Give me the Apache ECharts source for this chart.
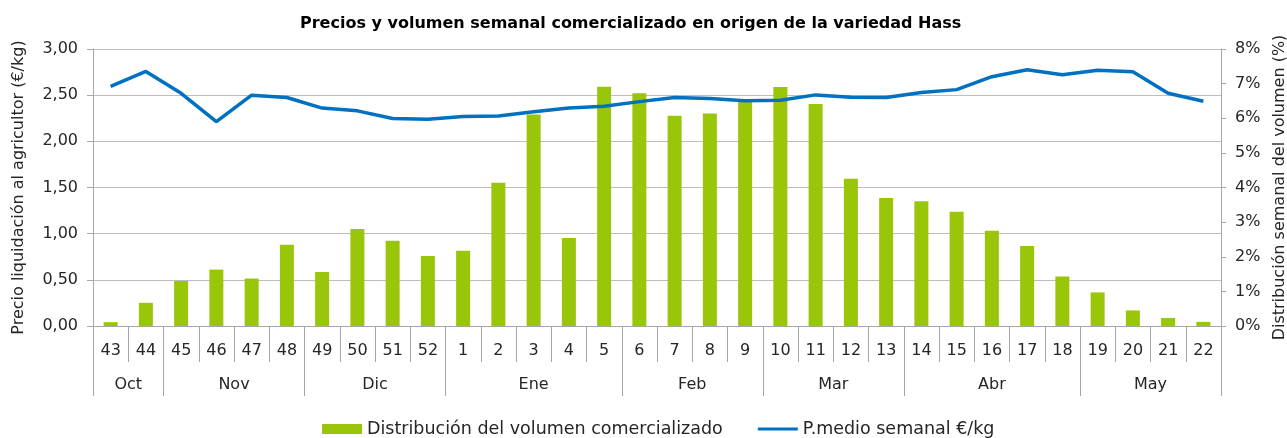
<!DOCTYPE html>
<html>
<head>
<meta charset="utf-8">
<script src="https://cdn.jsdelivr.net/npm/echarts@6/dist/echarts.min.js"></script>
<style>
html,body{margin:0;padding:0;background:#fff;}
#chart{width:1287px;height:438px;}
</style>
</head>
<body>
<div id="chart"></div>
<script>
// ---- data ----
const weeks = ['43','44','45','46','47','48','49','50','51','52','1','2','3','4','5','6','7','8','9','10','11','12','13','14','15','16','17','18','19','20','21','22'];
const monthNames = ['Oct','Nov','Dic','Ene','Feb','Mar','Abr','May'];
const monthSpans = [2,4,4,5,4,4,5,4];
const volumePct = [0.11,0.67,1.30,1.63,1.37,2.35,1.56,2.80,2.46,2.02,2.17,4.14,6.11,2.54,6.91,6.72,6.07,6.14,6.50,6.90,6.41,4.25,3.70,3.60,3.30,2.75,2.31,1.43,0.97,0.45,0.23,0.12];
const price = [2.595,2.757,2.52,2.214,2.50,2.475,2.36,2.33,2.247,2.24,2.27,2.275,2.32,2.36,2.38,2.43,2.475,2.464,2.44,2.446,2.503,2.478,2.475,2.53,2.56,2.70,2.775,2.72,2.77,2.753,2.52,2.435];
const leftTicks = [0,0.5,1,1.5,2,2.5,3];
const rightTicks = [0,1,2,3,4,5,6,7,8];
const titleText = 'Precios y volumen semanal comercializado en origen de la variedad Hass';
const barName = 'Distribución del volumen comercializado';
const lineName = 'P.medio semanal €/kg';
const leftAxisName = 'Precio liquidación al agricultor (€/kg)';
const rightAxisName = 'Distribución semanal del volumen (%)';

// ---- month axis built from half-slots (boundary positions) ----
const nSlots = weeks.length * 2 + 1;
const monthCats = new Array(nSlots).fill('');
const boundaryIdx = new Set([0]);
let start = 0;
monthNames.forEach((m, i) => {
  const center = start + monthSpans[i] / 2;
  monthCats[Math.round(center * 2)] = m;
  start += monthSpans[i];
  boundaryIdx.add(start * 2);
});

const FONT = 'DejaVu Sans';
const TXT = '#262626';
const GRID = '#BDBDBD';
const AX = '#A6A6A6';

const chart = echarts.init(document.getElementById('chart'), null, {renderer: 'canvas'});
chart.setOption({
  animation: false,
  backgroundColor: '#ffffff',
  textStyle: {fontFamily: FONT, color: TXT},
  title: {
    text: titleText,
    left: 295,
    top: 11,
    textStyle: {fontFamily: FONT, fontSize: 16, fontWeight: 'bold', color: '#000'}
  },
  legend: {
    left: 317,
    top: 415,
    itemWidth: 40,
    itemHeight: 10,
    itemGap: 35,
    textStyle: {fontFamily: FONT, fontSize: 17.5, color: TXT},
    data: [
      {name: barName, icon: 'rect'},
      {name: lineName, icon: 'path://M0,0 L0.01,0 M0,3.5 L40,3.5 L40,6.5 L0,6.5 Z M0,10 L0.01,10'}
    ]
  },
  grid: {left: 93, right: 66, top: 49, bottom: 112, containLabel: false, outerBoundsMode: 'none'},
  xAxis: [
    {
      type: 'category',
      data: weeks,
      position: 'bottom',
      axisLine: {show: true, lineStyle: {color: AX, width: 1}},
      axisTick: {show: true, alignWithLabel: false, length: 36, lineStyle: {color: AX}},
      axisLabel: {interval: 0, margin: 17, fontSize: 16, color: TXT, fontFamily: FONT}
    },
    {
      type: 'category',
      data: monthCats,
      boundaryGap: false,
      position: 'bottom',
      offset: 0,
      axisLine: {show: false},
      axisTick: {show: true, length: 70, interval: (idx) => boundaryIdx.has(idx), lineStyle: {color: AX}},
      axisLabel: {interval: 0, margin: 51, fontSize: 16, color: TXT, fontFamily: FONT}
    }
  ],
  yAxis: [
    {
      type: 'value',
      min: 0, max: 3, interval: 0.5,
      name: leftAxisName,
      nameLocation: 'middle',
      nameRotate: 90,
      nameGap: 66,
      nameTextStyle: {fontFamily: FONT, fontSize: 16, color: TXT},
      axisLine: {show: true, lineStyle: {color: AX}},
      axisTick: {show: true, length: 6, lineStyle: {color: AX}},
      axisLabel: {margin: 15, fontSize: 16, color: TXT, fontFamily: FONT,
        formatter: v => leftTicks.includes(v) ? v.toFixed(2).replace('.', ',') : ''},
      splitLine: {show: true, lineStyle: {color: GRID, width: 1}}
    },
    {
      type: 'value',
      min: 0, max: 8, interval: 1,
      position: 'right',
      name: rightAxisName,
      nameLocation: 'middle',
      nameRotate: 90,
      nameGap: 51,
      nameTextStyle: {fontFamily: FONT, fontSize: 16, color: TXT},
      axisLine: {show: true, lineStyle: {color: AX}},
      axisTick: {show: true, length: 5, lineStyle: {color: AX}},
      axisLabel: {margin: 14, fontSize: 16, color: TXT, fontFamily: FONT,
        formatter: v => rightTicks.includes(v) ? v + '%' : ''},
      splitLine: {show: false}
    }
  ],
  series: [
    {
      name: barName,
      type: 'bar',
      xAxisIndex: 0,
      yAxisIndex: 1,
      data: volumePct,
      barWidth: 14,
      itemStyle: {color: '#99C609'}
    },
    {
      name: lineName,
      type: 'line',
      xAxisIndex: 0,
      yAxisIndex: 0,
      data: price,
      symbol: 'none',
      lineStyle: {color: '#0070C0', width: 3.5},
      itemStyle: {color: '#0070C0'}
    }
  ]
});
</script>
</body>
</html>
